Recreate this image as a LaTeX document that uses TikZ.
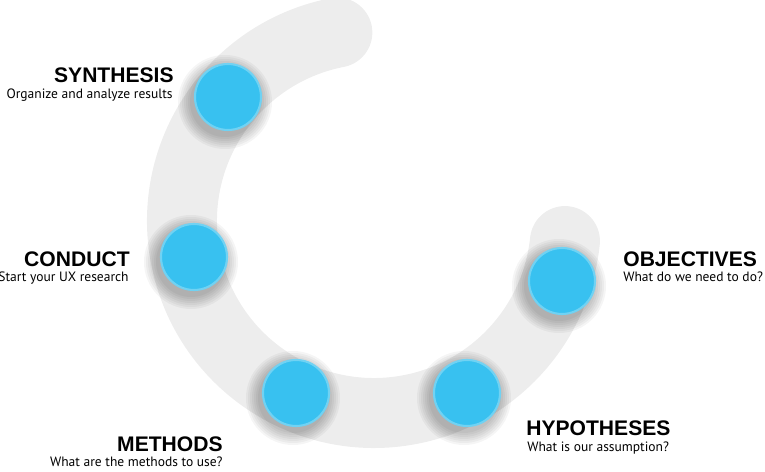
\documentclass[tikz,border=0pt]{standalone}
\usepackage{fontspec}
\setmainfont{Liberation Sans}
\newfontfamily\subfont{PT Sans}
\usetikzlibrary{positioning}
\definecolor{dotblue}{RGB}{56,193,240}
\definecolor{dotrim}{RGB}{112,210,243}
\definecolor{bandgray}{RGB}{237,237,237}
% soft shadow: stacked faint disks
\newcommand{\dropshade}[1]{%
  \foreach \r in {35,37,...,47} {\fill[black,fill opacity=0.04] #1 circle (\r);}}
\tikzset{
  band/.style={draw=bandgray,line width=1.4cm,line cap=round},
  stepdot/.style={circle,fill=dotblue,draw=dotrim,line width=1.2pt,
    minimum size=1.32cm,inner sep=0pt},
  steptitle/.style={font=\fontsize{12}{14}\selectfont\bfseries,inner sep=0pt},
  steptext/.style={font=\subfont\fontsize{7.7}{9}\selectfont,inner sep=0pt}
}
\begin{document}
\begin{tikzpicture}[x=0.02cm,y=0.02cm]
  \useasboundingbox (0,0) rectangle (765,472);

  % ring
  \coordinate (band-c) at (374,251);
  \draw[band] (band-c) ++(101:192) arc[start angle=101,end angle=354,radius=192];

  % Synthesis
  \dropshade{(225,370)}
  \node[stepdot] (synth-dot) at (228,375) {};
  \node[steptitle,anchor=base east] (synth-title) at (174,389) {SYNTHESIS};
  \node[steptext,anchor=base east] (synth-text) at (173,373) {Organize and analyze results};

  % Conduct
  \dropshade{(191,210)}
  \node[stepdot] (cond-dot) at (194,215) {};
  \node[steptitle,anchor=base east] (cond-title) at (130,205) {CONDUCT};
  \node[steptext,anchor=base east] (cond-text) at (129,190) {Start your UX research};

  % Methods
  \dropshade{(293,74)}
  \node[stepdot] (meth-dot) at (296,79) {};
  \node[steptitle,anchor=base east] (meth-title) at (223,20) {METHODS};
  \node[steptext,anchor=base east] (meth-text) at (223,5) {What are the methods to use?};

  % Hypotheses
  \dropshade{(464,74)}
  \node[stepdot] (hyp-dot) at (467,79) {};
  \node[steptitle,anchor=base west] (hyp-title) at (526,36) {HYPOTHESES};
  \node[steptext,anchor=base west] (hyp-text) at (527,20) {What is our assumption?};

  % Objectives
  \dropshade{(559,186)}
  \node[stepdot] (obj-dot) at (562,191) {};
  \node[steptitle,anchor=base west] (obj-title) at (623,205) {OBJECTIVES};
  \node[steptext,anchor=base west] (obj-text) at (623,190) {What do we need to do?};
\end{tikzpicture}
\end{document}
